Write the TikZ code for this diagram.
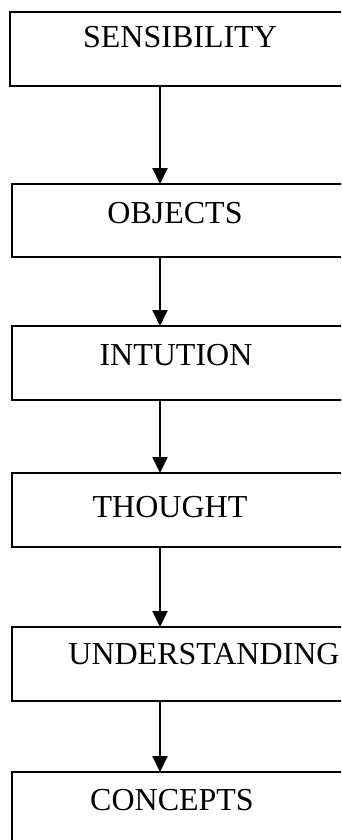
\documentclass[tikz,border=0pt]{standalone}
\usepackage{fontspec}
\setmainfont{Liberation Serif}
\usetikzlibrary{arrows.meta}
\begin{document}
\begin{tikzpicture}[x=1pt,y=-1pt,
  box/.style={draw,line width=2.5pt,rectangle,inner sep=0pt,outer sep=0pt,anchor=north west},
  lbl/.style={anchor=base,inner sep=0pt,font=\fontsize{32}{36}\selectfont},
  arr/.style={line width=2.2pt,-{Triangle[width=15pt,length=16pt]}}]
\useasboundingbox (0,0) rectangle (341,840);
\clip (0,0) rectangle (341,840);
\coordinate (ax) at (160,0);
\node[box,minimum width=345pt,minimum height=74pt] (b1) at (10,12) {};
\node[box,minimum width=345pt,minimum height=73pt] (b2) at (12,184) {};
\node[box,minimum width=345pt,minimum height=74pt] (b3) at (12,326) {};
\node[box,minimum width=345pt,minimum height=74pt] (b4) at (12,473) {};
\node[box,minimum width=345pt,minimum height=74pt] (b5) at (12,627) {};
\node[box,minimum width=345pt,minimum height=100pt] (b6) at (12,772) {};
\node[lbl] (t1) at (180,48) {SENSIBILITY};
\node[lbl] (t2) at (175,223) {OBJECTS};
\node[lbl] (t3) at (176,365) {INTUTION};
\node[lbl] (t4) at (170,517) {THOUGHT};
\node[lbl] (t5) at (204,664) {UNDERSTANDING};
\node[lbl] (t6) at (172,810) {CONCEPTS};
\draw[arr] (b1.south -| ax) -- (b2.north -| ax);
\draw[arr] (b2.south -| ax) -- (b3.north -| ax);
\draw[arr] (b3.south -| ax) -- (b4.north -| ax);
\draw[arr] (b4.south -| ax) -- (b5.north -| ax);
\draw[arr] (b5.south -| ax) -- (b6.north -| ax);
\end{tikzpicture}
\end{document}
